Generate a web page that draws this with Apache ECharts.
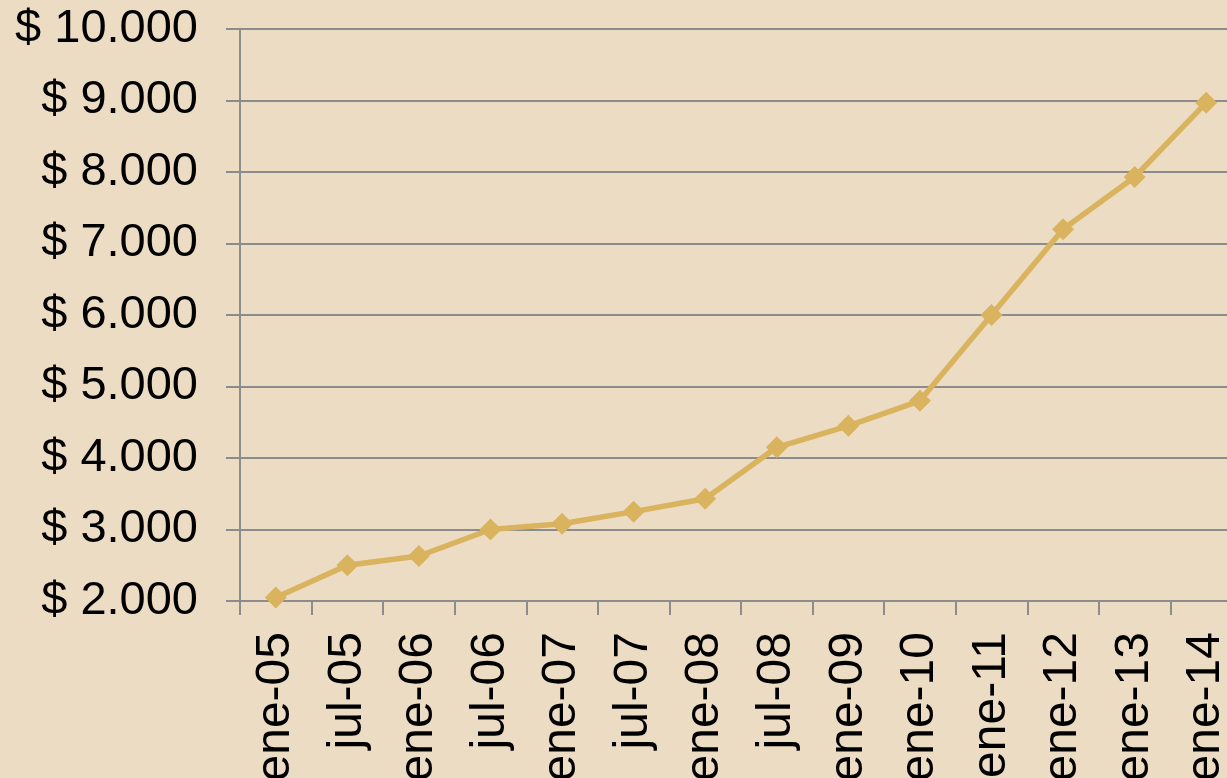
<!DOCTYPE html>
<html>
<head>
<meta charset="utf-8">
<script src="https://cdn.jsdelivr.net/npm/echarts@6/dist/echarts.min.js"></script>
<style>
  html, body { margin: 0; padding: 0; background: #ecdcc3; }
  #chart { width: 1227px; height: 778px; }
</style>
</head>
<body>
<div id="chart"></div>
<script>
// periods (ene = enero, jul = julio)
const periods = ['ene-05', 'jul-05', 'ene-06', 'jul-06', 'ene-07', 'jul-07', 'ene-08',
  'jul-08', 'ene-09', 'ene-10', 'ene-11', 'ene-12', 'ene-13', 'ene-14'];
const amounts = [2050, 2500, 2630, 3000, 3080, 3250, 3430, 4150, 4450, 4800, 6000, 7200, 7930, 8970];

const gray = '#8c8c8c';
const chart = echarts.init(document.getElementById('chart'));

function money(v) {
  // $ 10.000 style, dot as thousands separator
  return '$ ' + String(v).replace(/\B(?=(\d{3})+(?!\d))/g, '.');
}

chart.setOption({
  backgroundColor: '#ecdcc3',
  animation: false,
  textStyle: { fontFamily: 'Liberation Sans, Arial, sans-serif' },
  // plot runs past the right edge, like the original
  grid: { left: 240, top: 29, width: 1002, height: 572, outerBoundsMode: 'none', containLabel: false },
  xAxis: {
    type: 'category',
    data: periods,
    boundaryGap: true,
    axisLine: { lineStyle: { color: gray, width: 2 } },
    axisTick: { show: true, length: 14, lineStyle: { color: gray, width: 2 } },
    axisLabel: {
      rotate: 90,
      margin: 31,
      interval: 0,
      color: '#000',
      fontSize: 48,
      fontFamily: 'Liberation Sans, Arial, sans-serif'
    }
  },
  yAxis: {
    type: 'value',
    min: 2000,
    max: 10000,
    interval: 1000,
    axisLine: { show: true, lineStyle: { color: gray, width: 2 } },
    axisTick: { show: true, length: 14, lineStyle: { color: gray, width: 2 } },
    splitLine: { show: true, lineStyle: { color: gray, width: 2 } },
    axisLabel: {
      margin: 42,
      color: '#000',
      fontSize: 47,
      fontFamily: 'Liberation Sans, Arial, sans-serif',
      formatter: money
    }
  },
  series: [{
    type: 'line',
    data: amounts,
    symbol: 'diamond',
    symbolSize: 22,
    lineStyle: { color: '#d9b35e', width: 5.5 },
    itemStyle: { color: '#d9b35e' }
  }]
});
</script>
</body>
</html>
